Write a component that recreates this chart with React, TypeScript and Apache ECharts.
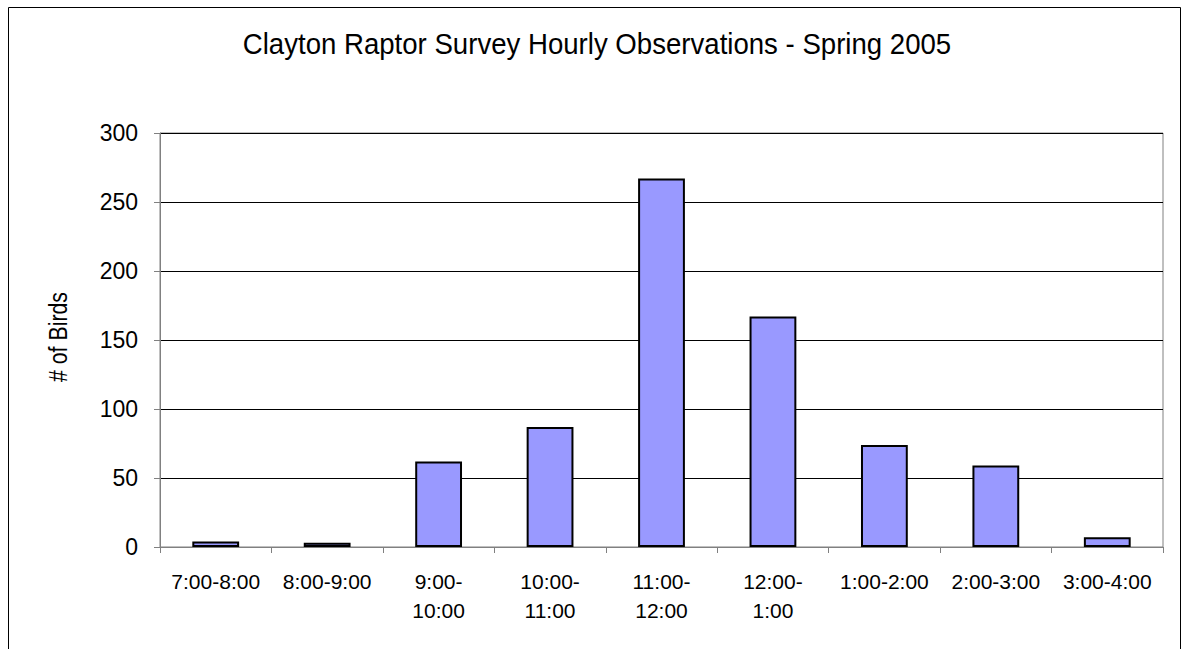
import React, { useEffect, useRef } from "react";
import * as echarts from "echarts";

const categories = [
  "7:00-8:00",
  "8:00-9:00",
  "9:00-10:00",
  "10:00-11:00",
  "11:00-12:00",
  "12:00-1:00",
  "1:00-2:00",
  "2:00-3:00",
  "3:00-4:00",
];
const birdCounts = [4, 3, 62, 87, 267, 167, 74, 59, 7];
const yTicks = { min: 0, max: 300, interval: 50 };
const titleText = "Clayton Raptor Survey Hourly Observations - Spring 2005";
const yAxisName = "# of Birds";

const SANS = "'Liberation Sans', Arial, sans-serif";

export default function App() {
  const ref = useRef<HTMLDivElement>(null);
  useEffect(() => {
    if (!ref.current) return;
    const chart = echarts.init(ref.current, undefined, { renderer: "svg" });
    chart.setOption({
      animation: false,
      backgroundColor: "#ffffff",
      graphic: [
        {
          type: "rect",
          shape: { x: 8.5, y: 7.5, width: 1172, height: 700 },
          style: { fill: "none", stroke: "#000", lineWidth: 1 },
          silent: true,
        },
        {
          type: "text",
          x: 597,
          y: 29,
          scaleX: 0.92,
          style: {
            text: titleText,
            font: `30px ${SANS}`,
            fill: "#000",
            textAlign: "center",
            textVerticalAlign: "top",
          },
          silent: true,
        },
        {
          type: "text",
          x: 58,
          y: 337,
          rotation: Math.PI / 2,
          scaleX: 0.82,
          style: {
            text: yAxisName,
            font: `26px ${SANS}`,
            fill: "#000",
            textAlign: "center",
            textVerticalAlign: "middle",
          },
          silent: true,
        },
      ],
      grid: {
        left: 160,
        right: 20,
        top: 133,
        bottom: 102,
        show: true,
        borderColor: "#808080",
        borderWidth: 1,
        backgroundColor: "transparent",
      },
      xAxis: {
        type: "category",
        data: categories,
        boundaryGap: true,
        axisLine: { show: true, lineStyle: { color: "#808080", width: 1 } },
        axisTick: { show: true, length: 6, inside: false, lineStyle: { color: "#808080" } },
        axisLabel: {
          interval: 0,
          margin: 20,
          fontFamily: SANS,
          fontSize: 21,
          lineHeight: 29,
          color: "#000",
          formatter: (v: string) => (v.length > 9 ? v.replace("-", "-\n") : v),
        },
        splitLine: { show: false },
      },
      yAxis: {
        type: "value",
        min: yTicks.min,
        max: yTicks.max,
        interval: yTicks.interval,
        axisLine: { show: true, lineStyle: { color: "#808080", width: 1 } },
        axisTick: { show: true, length: 6, inside: false, lineStyle: { color: "#808080" } },
        axisLabel: { margin: 22, fontFamily: SANS, fontSize: 23, color: "#000" },
        splitLine: { show: true, lineStyle: { color: "#000", width: 1 } },
      },
      series: [
        {
          type: "bar",
          data: birdCounts,
          barWidth: "42%",
          itemStyle: { color: "#9999FF", borderColor: "#000", borderWidth: 2 },
        },
      ],
    });
    return () => chart.dispose();
  }, []);
  return (
    <div
      ref={ref}
      style={{ position: "absolute", left: 0, top: 0, width: 1183, height: 649 }}
    />
  );
}
